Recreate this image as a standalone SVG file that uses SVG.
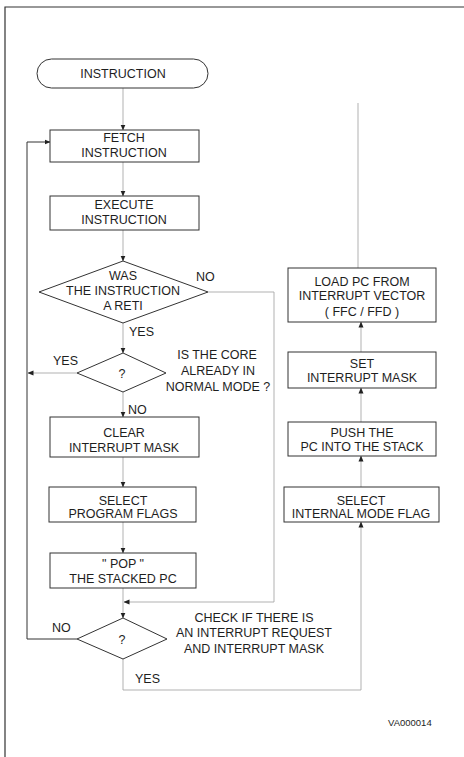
<svg xmlns="http://www.w3.org/2000/svg" width="464" height="757" viewBox="0 0 464 757">
<defs>
<marker id="ah" markerWidth="6" markerHeight="6" refX="5.5" refY="3" orient="auto" markerUnits="userSpaceOnUse">
<path d="M0,0.5 L6,3 L0,5.5 z" fill="#222"/>
</marker>
<style>
.box{fill:#fff;stroke:#333;stroke-width:1}
.t{font-family:"Liberation Sans",Arial,sans-serif;font-size:12.5px;fill:#1e1e1e;text-anchor:middle}
.tl{font-family:"Liberation Sans",Arial,sans-serif;font-size:12.5px;fill:#1e1e1e}
.c{fill:none;stroke:#a8a8a8;stroke-width:0.9}
.cs{fill:none;stroke:#333;stroke-width:1}
</style>
</defs>
<rect width="464" height="757" fill="#fff"/>
<path d="M5,757 L5,7 L464,7" fill="none" stroke="#333" stroke-width="1.2"/>

<g id="connectors">
<path class="c" d="M123,88 L123,130" marker-end="url(#ah)"/>
<path class="c" d="M123,162 L123,196" marker-end="url(#ah)"/>
<path class="c" d="M123,230 L123,261" marker-end="url(#ah)"/>
<path class="c" d="M123,323 L123,353" marker-end="url(#ah)"/>
<path class="c" d="M123,392 L123,417" marker-end="url(#ah)"/>
<path class="c" d="M123,457 L123,487" marker-end="url(#ah)"/>
<path class="c" d="M123,522 L123,553" marker-end="url(#ah)"/>
<path class="c" d="M123,588 L123,618" marker-end="url(#ah)"/>
<path class="c" d="M208,292 L274,292 L274,602 L124,602" marker-end="url(#ah)"/>
<path class="c" d="M77,373 L28,373" marker-end="url(#ah)"/>
<path class="cs" d="M77,639 L27,639 L27,142 L50,142" marker-end="url(#ah)"/>
<path class="c" d="M123,659 L123,690 L361,690 L361,522" marker-end="url(#ah)"/>
<path class="c" d="M361,487 L361,456" marker-end="url(#ah)"/>
<path class="c" d="M361,422 L361,388" marker-end="url(#ah)"/>
<path class="c" d="M361,352 L361,322" marker-end="url(#ah)"/>
<path class="c" d="M358,268 L358,103"/>
</g>

<g id="start">
<rect class="box" x="37" y="59" width="171" height="29" rx="14.5" ry="14.5"/>
<text class="t" x="123" y="78">INSTRUCTION</text>
</g>
<g id="fetch">
<rect class="box" x="50" y="130" width="149" height="32"/>
<text class="t" x="124" y="142">FETCH</text>
<text class="t" x="124" y="157">INSTRUCTION</text>
</g>
<g id="execute">
<rect class="box" x="50" y="196" width="149" height="34"/>
<text class="t" x="124" y="209">EXECUTE</text>
<text class="t" x="124" y="224">INSTRUCTION</text>
</g>
<g id="reti">
<polygon class="box" points="123,261 208,292 123,323 39,292"/>
<text class="t" x="123" y="280">WAS</text>
<text class="t" x="123" y="295">THE INSTRUCTION</text>
<text class="t" x="123" y="310">A RETI</text>
<text class="tl" x="196" y="281">NO</text>
<text class="tl" x="129" y="336">YES</text>
</g>
<g id="normal">
<polygon class="box" points="123,353 166,373 123,392 77,373"/>
<text class="t" x="122" y="378">?</text>
<text class="tl" x="53" y="365">YES</text>
<text class="t" x="217" y="359">IS THE CORE</text>
<text class="t" x="218" y="375">ALREADY IN</text>
<text class="t" x="218" y="391">NORMAL MODE ?</text>
<text class="tl" x="128" y="414">NO</text>
</g>
<g id="clear">
<rect class="box" x="50" y="417" width="149" height="40"/>
<text class="t" x="124" y="437">CLEAR</text>
<text class="t" x="124" y="452">INTERRUPT MASK</text>
</g>
<g id="selprog">
<rect class="box" x="49" y="487" width="147" height="35"/>
<text class="t" x="123" y="505">SELECT</text>
<text class="t" x="123" y="518">PROGRAM FLAGS</text>
</g>
<g id="pop">
<rect class="box" x="50" y="553" width="146" height="35"/>
<text class="t" x="123" y="568">" POP "</text>
<text class="t" x="123" y="583">THE STACKED PC</text>
</g>
<g id="check">
<polygon class="box" points="123,618 167,639 123,659 77,639"/>
<text class="t" x="122" y="644">?</text>
<text class="tl" x="52" y="632">NO</text>
<text class="t" x="254" y="622">CHECK IF THERE IS</text>
<text class="t" x="254" y="637">AN INTERRUPT REQUEST</text>
<text class="t" x="254" y="653">AND INTERRUPT MASK</text>
<text class="tl" x="135" y="683">YES</text>
</g>
<g id="loadpc">
<rect class="box" x="288" y="268" width="148" height="54"/>
<text class="t" x="362" y="286">LOAD PC FROM</text>
<text class="t" x="362" y="300">INTERRUPT VECTOR</text>
<text class="t" x="362" y="316">( FFC / FFD )</text>
</g>
<g id="setmask">
<rect class="box" x="288" y="352" width="148" height="36"/>
<text class="t" x="362" y="368">SET</text>
<text class="t" x="362" y="382">INTERRUPT MASK</text>
</g>
<g id="push">
<rect class="box" x="288" y="422" width="148" height="34"/>
<text class="t" x="362" y="437">PUSH THE</text>
<text class="t" x="362" y="451">PC INTO THE STACK</text>
</g>
<g id="selint">
<rect class="box" x="284" y="487" width="155" height="35"/>
<text class="t" x="361" y="505">SELECT</text>
<text class="t" x="361" y="518">INTERNAL MODE FLAG</text>
</g>
<text class="tl" x="388" y="726" style="font-size:9.5px">VA000014</text>
</svg>
